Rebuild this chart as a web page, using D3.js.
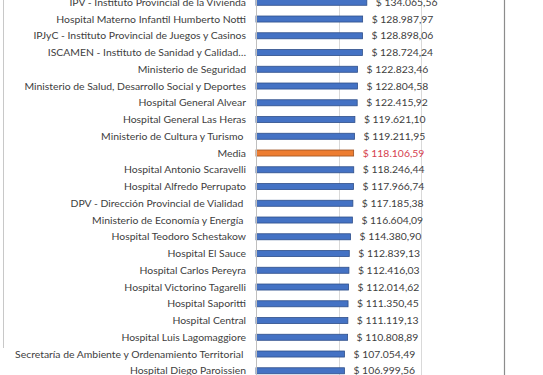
<!DOCTYPE html>
<html>
<head>
<meta charset="utf-8">
<script src="https://cdn.jsdelivr.net/npm/d3@7"></script>
<style>
  html, body { margin: 0; padding: 0; background: #fff; }
  svg { display: block; }
  text { font-family: Lato, "Open Sans", sans-serif; }
</style>
</head>
<body>
<svg id="chart"></svg>
<script>
// ---- data ----
const categories = [
  "IPV - Instituto Provincial de la Vivienda",
  "Hospital Materno Infantil Humberto Notti",
  "IPJyC - Instituto Provincial de Juegos y Casinos",
  "ISCAMEN - Instituto de Sanidad y Calidad\u2026",
  "Ministerio de Seguridad",
  "Ministerio de Salud, Desarrollo Social y Deportes",
  "Hospital General Alvear",
  "Hospital General Las Heras",
  "Ministerio de Cultura y Turismo ",
  "Media",
  "Hospital Antonio Scaravelli",
  "Hospital Alfredo Perrupato",
  "DPV - Dirección Provincial de Vialidad ",
  "Ministerio de Economía y Energía ",
  "Hospital Teodoro Schestakow",
  "Hospital El Sauce",
  "Hospital Carlos Pereyra",
  "Hospital Victorino Tagarelli",
  "Hospital Saporitti",
  "Hospital Central",
  "Hospital Luis Lagomaggiore",
  "Secretaría de Ambiente y Ordenamiento Territorial ",
  "Hospital Diego Paroissien"
];
const values = [
  134065.56, 128987.97, 128898.06, 128724.24, 122823.46, 122804.58,
  122415.92, 119621.10, 119211.95, 118106.59, 118246.44, 117966.74,
  117185.38, 116604.09, 114380.90, 112839.13, 112416.03, 112014.62,
  111350.45, 111119.13, 110808.89, 107054.49, 106999.56
];
const highlight = "Media";
const gridTicks = [0, 100000, 200000, 300000];

// ---- setup ----
const width = 543, height = 375;
const svg = d3.select("#chart").attr("width", width).attr("height", height);

const data = categories.map((c, i) => ({ name: c, value: values[i] }));

const x = d3.scaleLinear().domain([0, 300000]).range([256, 504]);
const y = d3.scaleBand()
  .domain(categories)
  .range([-6.1, -6.1 + 16.75 * categories.length])
  .paddingInner(0.64)
  .paddingOuter(0.32);

const locale = d3.formatLocale({
  decimal: ",", thousands: ".", grouping: [3], currency: ["$ ", ""]
});
const fmt = locale.format("$,.2f");

// left frame edge
svg.append("line")
  .attr("x1", 3.5).attr("x2", 3.5)
  .attr("y1", 0).attr("y2", 348)
  .attr("stroke", "#c8c8c8").attr("stroke-width", 1);

// gridlines
svg.append("g").selectAll("line")
  .data(gridTicks.slice(1, 3))
  .join("line")
  .attr("x1", d => Math.round(x(d)) + 0.5)
  .attr("x2", d => Math.round(x(d)) + 0.5)
  .attr("y1", 0).attr("y2", height)
  .attr("stroke", "#d9d9d9");

// right frame edge
svg.append("line")
  .attr("x1", 504.5).attr("x2", 504.5)
  .attr("y1", 0).attr("y2", height)
  .attr("stroke", "#8c8c8c").attr("stroke-width", 1.2);

// bars
svg.append("g").selectAll("rect")
  .data(data)
  .join("rect")
  .attr("x", x(0))
  .attr("y", d => y(d.name))
  .attr("width", d => x(d.value) - x(0))
  .attr("height", y.bandwidth())
  .attr("fill", d => d.name === highlight ? "#ed7d31" : "#4472c4")
  .attr("stroke", d => d.name === highlight ? "#9c5020" : "#2f4f8a")
  .attr("stroke-width", 0.8);

// category axis line
svg.append("line")
  .attr("x1", x(0) + 0.5).attr("x2", x(0) + 0.5)
  .attr("y1", 0).attr("y2", height)
  .attr("stroke", "#bfbfbf");

// category labels
svg.append("g").selectAll("text")
  .data(data)
  .join("text")
  .attr("x", 246)
  .attr("y", d => y(d.name) + y.bandwidth() / 2)
  .attr("dy", "0.35em")
  .attr("text-anchor", "end")
  .attr("font-size", "10.4px")
  .attr("fill", "#404040")
  .style("white-space", "pre")
  .text(d => d.name);

// value labels
svg.append("g").selectAll("text")
  .data(data)
  .join("text")
  .attr("x", d => x(d.value) + 9)
  .attr("y", d => y(d.name) + y.bandwidth() / 2)
  .attr("dy", "0.35em")
  .attr("font-size", "10.4px")
  .attr("fill", d => d.name === highlight ? "#d6404e" : "#404040")
  .text(d => fmt(d.value));
</script>
</body>
</html>
